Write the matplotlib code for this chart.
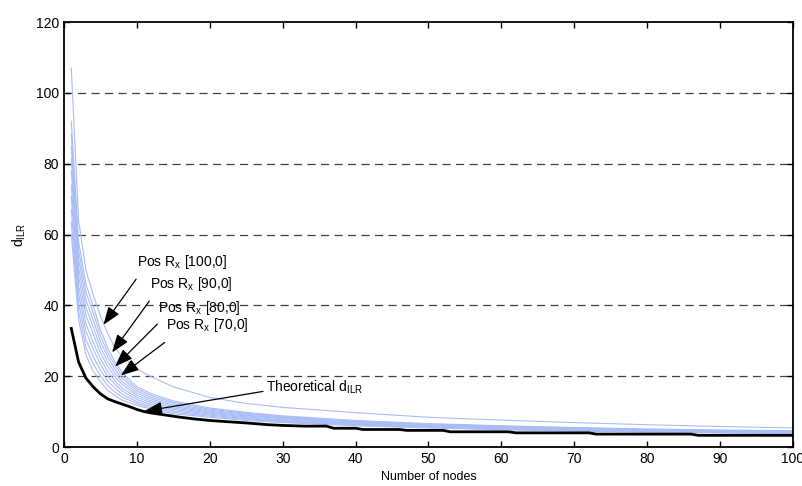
import matplotlib
matplotlib.use("Agg")
import matplotlib.pyplot as plt

plt.rcParams['font.family'] = ['Liberation Sans', 'DejaVu Sans']
plt.rcParams['mathtext.default'] = 'regular'

# Sample points (number of nodes) for the simulated curves
nodes = [1, 2, 3, 4, 5, 6, 7, 8, 10, 12, 15, 20, 25, 30, 40, 50, 60, 70, 80, 90, 100]

# Simulated d_ILR curves (light blue)
sim_curves = [
    [60, 36, 26, 21.5, 18.5, 16, 14.5, 13.2, 11.8, 10.6, 9.4, 8.4, 7.5, 6.9, 6.0, 5.4, 4.9, 4.5, 4.2, 4.0, 3.8],
    [63.5, 38.4, 28.2, 23.5, 20.1, 17.3, 15.5, 14.1, 12.3, 11.0, 9.8, 8.7, 7.8, 7.1, 6.2, 5.5, 5.0, 4.6, 4.3, 4.1, 3.9],
    [67, 40.8, 30.4, 25.6, 21.7, 18.6, 16.6, 14.9, 12.8, 11.5, 10.2, 9.0, 8.0, 7.3, 6.3, 5.7, 5.1, 4.7, 4.4, 4.2, 4.0],
    [70.7, 43.3, 32.7, 27.7, 23.3, 20, 17.7, 15.8, 13.4, 12.0, 10.6, 9.3, 8.3, 7.5, 6.5, 5.8, 5.3, 4.8, 4.5, 4.3, 4.1],
    [74, 45.7, 34.8, 29.6, 24.9, 21.3, 18.7, 16.6, 14.0, 12.5, 11.0, 9.6, 8.5, 7.7, 6.7, 5.9, 5.4, 4.9, 4.6, 4.4, 4.2],
    [78, 48.3, 37.2, 31.9, 26.6, 22.7, 19.8, 17.6, 14.6, 13, 11.4, 9.8, 8.8, 8.0, 6.8, 6.1, 5.5, 5.1, 4.7, 4.5, 4.25],
    [81.4, 50.7, 39.4, 33.9, 28.2, 24, 20.9, 18.4, 15.2, 13.5, 11.8, 10.1, 9.0, 8.2, 7.0, 6.2, 5.6, 5.2, 4.8, 4.5, 4.35],
    [85, 53.2, 41.6, 35.9, 29.8, 25.4, 21.9, 19.3, 15.8, 14, 12.2, 10.4, 9.3, 8.4, 7.2, 6.3, 5.8, 5.3, 4.9, 4.6, 4.45],
    [88.5, 55.6, 43.8, 38, 31.4, 26.7, 23, 20.1, 16.4, 14.5, 12.6, 10.7, 9.5, 8.6, 7.3, 6.5, 5.9, 5.4, 5.0, 4.7, 4.5],
    [92, 58, 46, 40, 33, 28, 24, 21, 17, 15, 13, 11, 9.8, 8.8, 7.5, 6.6, 6.0, 5.5, 5.1, 4.8, 4.6],
    [107, 64, 50, 43, 37, 32, 28, 25.5, 22, 19.8, 17, 14, 12.3, 11.2, 9.7, 8.4, 7.6, 6.9, 6.3, 5.8, 5.4],
]

# Theoretical d_ILR (black)
theo_nodes = [1, 2, 3, 4, 5, 6, 7, 8, 9, 10, 11, 12, 14, 16, 18, 20, 22, 25, 28, 30, 33, 36, 37, 40,
              41, 46, 47, 52, 53, 61, 62, 72, 73, 86, 87, 100]
theo_vals = [33.5, 24, 19.5, 17, 15, 13.6, 12.8, 12.1, 11.4, 10.6, 10, 9.6, 9.0, 8.4, 7.9, 7.5, 7.2, 6.8,
             6.3, 6.1, 5.9, 5.9, 5.3, 5.3, 4.95, 4.95, 4.7, 4.7, 4.3, 4.3, 4.0, 4.0, 3.65, 3.65, 3.3, 3.3]

# Annotations: label, text position, arrow tail, arrow head
ann_labels = ['Pos R$_x$ [100,0]', 'Pos R$_x$ [90,0]', 'Pos R$_x$ [80,0]', 'Pos R$_x$ [70,0]',
              'Theoretical d$_{ILR}$']
ann_text_xy = [(10.0, 52.1), (11.8, 46.0), (12.9, 39.2), (14.0, 34.5), (27.7, 16.8)]
ann_tail_xy = [(9.9, 47.4), (11.7, 41.2), (12.8, 34.7), (13.8, 29.5), (27.3, 15.7)]
ann_head_xy = [(5.4, 34.5), (6.6, 26.7), (7.0, 22.7), (7.8, 20.2), (11.0, 10.1)]

x_ticks = list(range(0, 101, 10))
y_ticks = list(range(0, 121, 20))
grid_levels = [20, 40, 60, 80, 100]

fig = plt.figure(figsize=(8.03, 4.86), dpi=100)
ax = fig.add_axes([0.0797, 0.0802, 0.9078, 0.8745])

for lvl in grid_levels:
    ax.axhline(lvl, color='#404040', lw=0.9, dashes=(6.5, 4.3), zorder=1)

for c in sim_curves:
    ax.plot(nodes, c, color='#a9bcf5', lw=0.8, zorder=2)

ax.plot(theo_nodes, theo_vals, color='black', lw=2.0, zorder=3)

for lab, txy, tail, head in zip(ann_labels, ann_text_xy, ann_tail_xy, ann_head_xy):
    ax.text(txy[0], txy[1], lab, fontsize=10, ha='left', va='center', zorder=5)
    ax.annotate('', xy=head, xytext=tail,
                arrowprops=dict(arrowstyle='-|>,head_length=1.1,head_width=0.4',
                                color='black', lw=0.9, shrinkA=0, shrinkB=0),
                zorder=4)

ax.set_xlim(0, 100)
ax.set_ylim(0, 120)
ax.set_xticks(x_ticks)
ax.set_yticks(y_ticks)
ax.tick_params(direction='in', top=True, right=True, length=4, width=1, labelsize=10)
for s in ax.spines.values():
    s.set_linewidth(1.3)

ax.set_xlabel('Number of nodes', fontsize=9, labelpad=4)
ax.set_ylabel('d$_{ILR}$', fontsize=10, labelpad=6)

fig.savefig('out.png', dpi=100)
